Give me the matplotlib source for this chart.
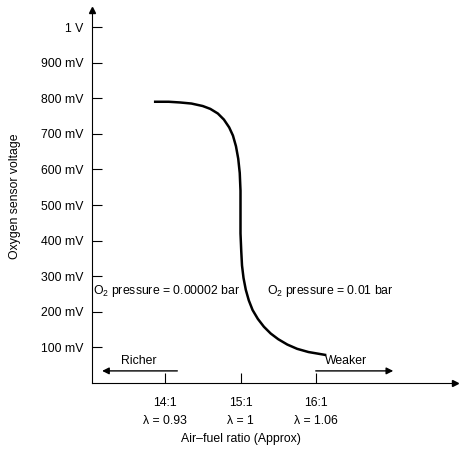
import matplotlib
matplotlib.use("Agg")
import matplotlib.pyplot as plt
from matplotlib.transforms import blended_transform_factory

plt.rcParams['font.family'] = ['Liberation Sans', 'DejaVu Sans']
plt.rcParams['mathtext.fontset'] = 'custom'
plt.rcParams['mathtext.rm'] = 'Liberation Sans'

curve_afr = [13.87, 14.05, 14.2, 14.35, 14.5, 14.6, 14.7, 14.78, 14.85, 14.9, 14.94, 14.97, 14.99, 15.0, 15.0,
             15.0, 15.01, 15.02, 15.04, 15.07, 15.11, 15.16, 15.23, 15.31, 15.4, 15.5, 15.62, 15.75, 15.9, 16.12]
curve_mv = [790, 790, 788, 785, 778, 770, 757, 740, 718, 695, 665, 630, 590, 540, 480,
            420, 370, 330, 295, 262, 232, 205, 180, 158, 139, 123, 108, 96, 87, 79]
x_ticks = [14, 15, 16]
x_tick_labels = ['14:1', '15:1', '16:1']
lambda_labels = ['λ = 0.93', 'λ = 1', 'λ = 1.06']
y_ticks = [100, 200, 300, 400, 500, 600, 700, 800, 900, 1000]
y_tick_labels = ['100 mV', '200 mV', '300 mV', '400 mV', '500 mV', '600 mV', '700 mV', '800 mV', '900 mV', '1 V']

fig = plt.figure(figsize=(4.74, 4.51), dpi=100)
W, H = 474, 451
x0, x1, ytop, ybot = 92, 455, 10, 383
ax = fig.add_axes([x0 / W, (H - ybot) / H, (x1 - x0) / W, (ybot - ytop) / H])
px = 75.5
xmin = 14 - (165 - x0) / px
xmax = xmin + (x1 - x0) / px
ax.set_xlim(xmin, xmax)
ax.set_ylim(0, (ybot - ytop) / 0.356)

for s in ['top', 'right']:
    ax.spines[s].set_visible(False)
ax.plot(1, 0, '>k', transform=ax.transAxes, clip_on=False, markersize=5)
ax.plot(0, 1, '^k', transform=ax.transAxes, clip_on=False, markersize=5)

ax.plot(curve_afr, curve_mv, color='black', lw=1.8)

fs = 8.8
ax.set_yticks(y_ticks)
ax.set_yticklabels(y_tick_labels, fontsize=fs)
ax.set_xticks(x_ticks)
ax.set_xticklabels([])
ax.tick_params(axis='y', direction='in', length=7, pad=6)
ax.tick_params(axis='x', direction='in', length=7)
tr = blended_transform_factory(ax.transData, fig.transFigure)
for xv, a, b in zip(x_ticks, x_tick_labels, lambda_labels):
    fig.text(xv, 1 - 403 / H, a, transform=tr, fontsize=fs, ha='center', va='center')
    fig.text(xv, 1 - 421 / H, b, transform=tr, fontsize=fs, ha='center', va='center')
fig.text(15, 1 - 439 / H, 'Air–fuel ratio (Approx)', transform=tr, fontsize=fs, ha='center', va='center')
fig.text(15 / W, 1 - 196 / H, 'Oxygen sensor voltage', fontsize=fs, rotation=90, ha='center', va='center')

ax.annotate('', xy=(13.13, 34), xytext=(14.2, 34),
            arrowprops=dict(arrowstyle='-|>', color='black', lw=1, mutation_scale=10))
ax.annotate('', xy=(17.06, 34), xytext=(15.96, 34),
            arrowprops=dict(arrowstyle='-|>', color='black', lw=1, mutation_scale=10))
ax.text(13.65, 45, 'Richer', fontsize=fs, ha='center', va='bottom')
ax.text(16.4, 45, 'Weaker', fontsize=fs, ha='center', va='bottom')
ax.text(13.05, 258, r'O$_2$ pressure = 0.00002 bar', fontsize=fs, ha='left', va='center')
ax.text(15.35, 258, r'O$_2$ pressure = 0.01 bar', fontsize=fs, ha='left', va='center')

fig.savefig('out.png', dpi=100)
